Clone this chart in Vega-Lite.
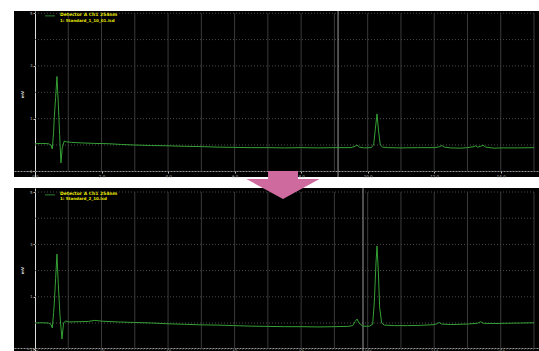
{
  "$schema": "https://vega.github.io/schema/vega-lite/v6.json",
  "background": "white",
  "padding": {"left": 14, "top": 10, "right": 0, "bottom": 0},
  "autosize": {"type": "pad"},
  "bounds": "flush",
  "spacing": 11,
  "config": {
    "view": {"fill": "black", "stroke": null},
    "axis": {
      "labelFontSize": 4, "labelColor": "#bbbbbb", "tickColor": "#bbbbbb", "tickSize": 2,
      "domainColor": "#dddddd", "grid": false, "titleFontSize": 4, "titleColor": "#dddddd",
      "labelPadding": 1, "labelFont": "DejaVu Sans", "titleFont": "DejaVu Sans",
      "labelOverlap": false, "labelFlush": false
    }
  },
  "datasets": {
    "top": [
      {"t": 0.0, "v": 0.05}, {"t": 0.2, "v": 0.06}, {"t": 0.4, "v": 0.05}, {"t": 0.48, "v": 0.0},
      {"t": 0.52, "v": -0.15}, {"t": 0.56, "v": 0.5}, {"t": 0.58, "v": 1.05}, {"t": 0.62, "v": 1.8},
      {"t": 0.66, "v": 2.6}, {"t": 0.70, "v": 1.6}, {"t": 0.74, "v": 0.4}, {"t": 0.78, "v": -0.68},
      {"t": 0.82, "v": -0.1}, {"t": 0.88, "v": 0.15}, {"t": 0.95, "v": 0.12}, {"t": 1.1, "v": 0.1},
      {"t": 1.4, "v": 0.08}, {"t": 1.8, "v": 0.06}, {"t": 2.2, "v": 0.05}, {"t": 2.6, "v": 0.02},
      {"t": 3.0, "v": 0.0}, {"t": 3.5, "v": -0.02}, {"t": 4.0, "v": -0.03}, {"t": 4.5, "v": -0.05},
      {"t": 5.0, "v": -0.06}, {"t": 5.5, "v": -0.08}, {"t": 6.0, "v": -0.09}, {"t": 6.5, "v": -0.1},
      {"t": 7.0, "v": -0.1}, {"t": 7.5, "v": -0.11}, {"t": 8.0, "v": -0.1}, {"t": 8.5, "v": -0.11},
      {"t": 9.0, "v": -0.1}, {"t": 9.5, "v": -0.1}, {"t": 9.62, "v": -0.05}, {"t": 9.68, "v": 0.0},
      {"t": 9.75, "v": -0.08}, {"t": 9.9, "v": -0.11}, {"t": 10.1, "v": -0.1}, {"t": 10.18, "v": 0.0},
      {"t": 10.23, "v": 0.6}, {"t": 10.28, "v": 1.18}, {"t": 10.33, "v": 0.5}, {"t": 10.38, "v": 0.0},
      {"t": 10.45, "v": -0.08}, {"t": 10.6, "v": -0.1}, {"t": 11.0, "v": -0.11}, {"t": 11.5, "v": -0.1},
      {"t": 12.0, "v": -0.1}, {"t": 12.15, "v": -0.07}, {"t": 12.23, "v": -0.02}, {"t": 12.3, "v": -0.08},
      {"t": 12.5, "v": -0.11}, {"t": 12.8, "v": -0.12}, {"t": 13.0, "v": -0.1}, {"t": 13.2, "v": -0.06},
      {"t": 13.25, "v": -0.03}, {"t": 13.3, "v": -0.08}, {"t": 13.4, "v": -0.05}, {"t": 13.47, "v": -0.01},
      {"t": 13.55, "v": -0.08}, {"t": 13.8, "v": -0.12}, {"t": 14.0, "v": -0.11}, {"t": 14.5, "v": -0.11},
      {"t": 15.0, "v": -0.1}
    ],
    "bottom": [
      {"t": 0.0, "v": 0.0}, {"t": 0.2, "v": 0.01}, {"t": 0.4, "v": 0.0}, {"t": 0.48, "v": -0.05},
      {"t": 0.52, "v": -0.19}, {"t": 0.56, "v": 0.4}, {"t": 0.58, "v": 0.76}, {"t": 0.62, "v": 1.7},
      {"t": 0.66, "v": 2.63}, {"t": 0.70, "v": 1.5}, {"t": 0.75, "v": 0.3}, {"t": 0.81, "v": -0.61},
      {"t": 0.86, "v": 0.0}, {"t": 0.92, "v": 0.08}, {"t": 1.0, "v": 0.04}, {"t": 1.3, "v": 0.05},
      {"t": 1.6, "v": 0.06}, {"t": 1.8, "v": 0.1}, {"t": 2.0, "v": 0.07}, {"t": 2.5, "v": 0.04},
      {"t": 3.0, "v": 0.02}, {"t": 3.5, "v": 0.0}, {"t": 4.0, "v": -0.03}, {"t": 4.5, "v": -0.05},
      {"t": 5.0, "v": -0.07}, {"t": 5.5, "v": -0.08}, {"t": 6.0, "v": -0.1}, {"t": 6.5, "v": -0.12},
      {"t": 7.0, "v": -0.13}, {"t": 7.5, "v": -0.14}, {"t": 8.0, "v": -0.14}, {"t": 8.5, "v": -0.15},
      {"t": 9.0, "v": -0.14}, {"t": 9.4, "v": -0.13}, {"t": 9.55, "v": -0.1}, {"t": 9.62, "v": 0.05},
      {"t": 9.68, "v": 0.15}, {"t": 9.74, "v": 0.0}, {"t": 9.85, "v": -0.12}, {"t": 10.05, "v": -0.12},
      {"t": 10.15, "v": -0.05}, {"t": 10.2, "v": 0.8}, {"t": 10.25, "v": 2.3}, {"t": 10.28, "v": 2.94},
      {"t": 10.32, "v": 2.0}, {"t": 10.36, "v": 0.6}, {"t": 10.42, "v": 0.0}, {"t": 10.5, "v": -0.08},
      {"t": 10.8, "v": -0.1}, {"t": 11.2, "v": -0.1}, {"t": 11.6, "v": -0.09}, {"t": 12.0, "v": -0.06},
      {"t": 12.1, "v": -0.02}, {"t": 12.15, "v": 0.02}, {"t": 12.22, "v": -0.04}, {"t": 12.5, "v": -0.06},
      {"t": 13.0, "v": -0.04}, {"t": 13.3, "v": -0.01}, {"t": 13.4, "v": 0.05}, {"t": 13.47, "v": -0.01},
      {"t": 13.8, "v": -0.02}, {"t": 14.2, "v": -0.01}, {"t": 14.6, "v": 0.0}, {"t": 15.0, "v": 0.01}
    ],
    "gridx": [{"t": 1}, {"t": 2}, {"t": 3}, {"t": 4}, {"t": 5}, {"t": 6}, {"t": 7}, {"t": 8}, {"t": 9}, {"t": 10}, {"t": 11}, {"t": 12}, {"t": 13}, {"t": 14}, {"t": 15}],
    "gridy": [{"v": -1}, {"v": 0}, {"v": 1}, {"v": 2}, {"v": 3}, {"v": 4}, {"v": 5}],
    "one": [{}]
  },
  "vconcat": [
    {
      "width": 525,
      "height": 166,
      "layer": [
        {
          "data": {"name": "gridx"},
          "mark": {"type": "rule", "color": "#3a3a3a", "strokeWidth": 1},
          "encoding": {
            "x": {"field": "t", "type": "quantitative", "scale": {"domain": [-0.631, 15.15], "nice": false, "zero": false},
                  "axis": {"values": [0, 1, 2, 3, 4, 5, 6, 7, 8, 9, 10, 11, 12, 13, 14, 15], "offset": -6, "title": null, "format": ".1f", "domainDash": [2, 1], "domainColor": "#999999"}},
            "y": {"datum": -1, "type": "quantitative", "scale": {"domain": [-1.214, 5.085], "nice": false, "zero": false},
                  "axis": {"values": [-1, 0, 1, 2, 3, 4, 5], "offset": -21, "title": "mV", "titlePadding": 2}},
            "y2": {"datum": 5}
          }
        },
        {
          "data": {"name": "gridy"},
          "mark": {"type": "rule", "color": "#4a4a4a", "strokeWidth": 1, "strokeDash": [1, 2]},
          "encoding": {
            "y": {"field": "v", "type": "quantitative"},
            "x": {"datum": 0, "type": "quantitative"},
            "x2": {"datum": 15}
          }
        },
        {
          "data": {"name": "one"},
          "mark": {"type": "rule", "color": "#9a9a9a", "strokeWidth": 1},
          "encoding": {"x": {"datum": 9.11, "type": "quantitative"}}
        },
        {
          "data": {"name": "top"},
          "mark": {"type": "line", "color": "#35a035", "strokeWidth": 1},
          "encoding": {
            "x": {"field": "t", "type": "quantitative"},
            "y": {"field": "v", "type": "quantitative"}
          }
        },
        {
          "data": {"name": "one"},
          "mark": {"type": "rule", "color": "#2f7f2f", "strokeWidth": 1},
          "encoding": {"x": {"datum": 0.3, "type": "quantitative"}, "x2": {"datum": 0.6}, "y": {"datum": 4.9, "type": "quantitative"}}
        },
        {
          "data": {"name": "one"},
          "mark": {"type": "text", "text": "Detector A Ch1 254nm", "color": "#e6e600", "fontSize": 4.5, "fontWeight": "bold", "align": "left", "baseline": "middle", "font": "DejaVu Sans"},
          "encoding": {"x": {"datum": 0.75, "type": "quantitative"}, "y": {"datum": 4.93, "type": "quantitative"}}
        },
        {
          "data": {"name": "one"},
          "mark": {"type": "text", "text": "1: Standard_1_10_01.lcd", "color": "#e6e600", "fontSize": 4, "fontWeight": "bold", "align": "left", "baseline": "middle", "font": "DejaVu Sans"},
          "encoding": {"x": {"datum": 0.75, "type": "quantitative"}, "y": {"datum": 4.72, "type": "quantitative"}}
        }
      ]
    },
    {
      "width": 525,
      "height": 164,
      "layer": [
        {
          "data": {"name": "gridx"},
          "mark": {"type": "rule", "color": "#3a3a3a", "strokeWidth": 1},
          "encoding": {
            "x": {"field": "t", "type": "quantitative", "scale": {"domain": [-0.631, 15.15], "nice": false, "zero": false},
                  "axis": {"values": [0, 1, 2, 3, 4, 5, 6, 7, 8, 9, 10, 11, 12, 13, 14, 15], "offset": -4, "title": null, "format": ".1f", "domainDash": [2, 1], "domainColor": "#999999", "tickSize": 1, "labelPadding": 0, "labelFontSize": 3}},
            "y": {"datum": -1, "type": "quantitative", "scale": {"domain": [-1.107, 5.153], "nice": false, "zero": false},
                  "axis": {"values": [-1, 0, 1, 2, 3, 4, 5], "offset": -21, "title": "mV", "titlePadding": 2}},
            "y2": {"datum": 5}
          }
        },
        {
          "data": {"name": "gridy"},
          "mark": {"type": "rule", "color": "#4a4a4a", "strokeWidth": 1, "strokeDash": [1, 2]},
          "encoding": {
            "y": {"field": "v", "type": "quantitative"},
            "x": {"datum": 0, "type": "quantitative"},
            "x2": {"datum": 15}
          }
        },
        {
          "data": {"name": "one"},
          "mark": {"type": "rule", "color": "#9a9a9a", "strokeWidth": 1},
          "encoding": {"x": {"datum": 9.86, "type": "quantitative"}}
        },
        {
          "data": {"name": "bottom"},
          "mark": {"type": "line", "color": "#35a035", "strokeWidth": 1},
          "encoding": {
            "x": {"field": "t", "type": "quantitative"},
            "y": {"field": "v", "type": "quantitative"}
          }
        },
        {
          "data": {"name": "one"},
          "mark": {"type": "rule", "color": "#2f7f2f", "strokeWidth": 1},
          "encoding": {"x": {"datum": 0.3, "type": "quantitative"}, "x2": {"datum": 0.6}, "y": {"datum": 4.89, "type": "quantitative"}}
        },
        {
          "data": {"name": "one"},
          "mark": {"type": "text", "text": "Detector A Ch1 254nm", "color": "#e6e600", "fontSize": 4.5, "fontWeight": "bold", "align": "left", "baseline": "middle", "font": "DejaVu Sans"},
          "encoding": {"x": {"datum": 0.75, "type": "quantitative"}, "y": {"datum": 4.91, "type": "quantitative"}}
        },
        {
          "data": {"name": "one"},
          "mark": {"type": "text", "text": "1: Standard_2_10.lcd", "color": "#e6e600", "fontSize": 4, "fontWeight": "bold", "align": "left", "baseline": "middle", "font": "DejaVu Sans"},
          "encoding": {"x": {"datum": 0.75, "type": "quantitative"}, "y": {"datum": 4.72, "type": "quantitative"}}
        },
        {
          "data": {"name": "one"},
          "mark": {"type": "point", "shape": "M-0.41,-0.384 L0.41,-0.384 L0.41,-0.164 L1,-0.164 L0,0.384 L-1,-0.164 L-0.41,-0.164 Z", "filled": true, "color": "#cf6a9f", "opacity": 1, "strokeWidth": 0, "size": 5329, "clip": false},
          "encoding": {"x": {"datum": 7.455, "type": "quantitative"}, "y": {"datum": 5.267, "type": "quantitative"}}
        }
      ]
    }
  ]
}
